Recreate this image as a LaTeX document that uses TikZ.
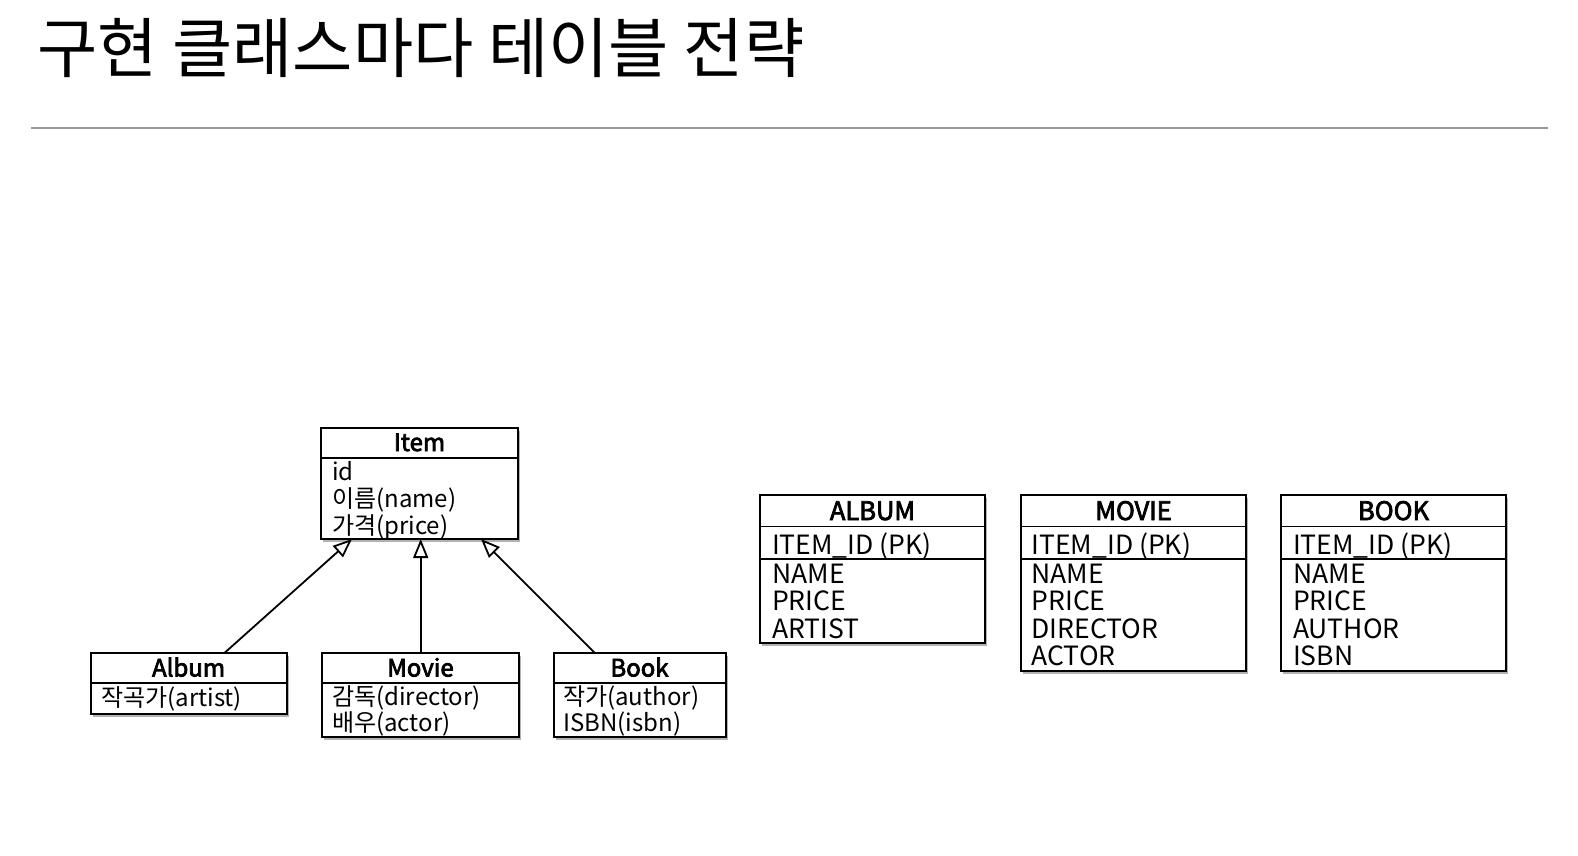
\documentclass[tikz,border=0pt]{standalone}
\usepackage{fontspec}
\setmainfont{Noto Sans CJK KR}
\newfontfamily\medfont{Noto Sans CJK KR}[FakeBold=3]
\usetikzlibrary{arrows.meta,shadows}
\tikzset{
  box/.style={draw, line width=2pt, fill=white, anchor=north west, inner sep=0pt, outer sep=0pt,
    drop shadow={shadow xshift=2pt, shadow yshift=-3pt, fill=black, opacity=0.3}},
  divider/.style={line width=1.7pt},
  umlhead/.style={anchor=base, inner sep=0pt, font=\fontsize{24pt}{27pt}\medfont},
  umlattr/.style={anchor=base west, inner sep=0pt, font=\fontsize{24pt}{27pt}\selectfont},
  tabhead/.style={anchor=base, inner sep=0pt, font=\fontsize{25.5pt}{28pt}\medfont},
  tabattr/.style={anchor=base west, inner sep=0pt, font=\fontsize{26.5pt}{30pt}\selectfont},
  inherit/.style={line width=1.8pt, -{Triangle[open, length=19pt, width=15pt, line width=1.8pt]}},
}
\begin{document}
\begin{tikzpicture}[x=1pt, y=-1pt]
\useasboundingbox (0,0) rectangle (1578,855);
\fill[white] (0,0) rectangle (1578,855);
% title
\node[anchor=base west, inner sep=0pt, font=\fontsize{65.5pt}{70pt}\selectfont] (title) at (37,72) {구현 클래스마다 테이블 전략};
\coordinate (ruleL) at (31,128);
\coordinate (ruleR) at (1548,128);
\draw[line width=1.6pt, black!40] (ruleL) -- (ruleR);

% UML classes
\node[box, minimum width=197pt, minimum height=111pt] (item) at (321,428) {};
\draw[divider] (item.west |- 0,458) -- (item.east |- 0,458);
\node[umlhead] (itemh) at (419.5,451) {Item};
\node[umlattr] (itema1) at (332,480) {id};
\node[umlattr] (itema2) at (332,507) {이름(name)};
\node[umlattr] (itema3) at (332,534) {가격(price)};

\node[box, minimum width=196pt, minimum height=61pt] (album) at (90.6,653) {};
\draw[divider] (album.west |- 0,683) -- (album.east |- 0,683);
\node[umlhead] (albumh) at (188.6,676.5) {Album};
\node[umlattr] (albuma1) at (101,706.5) {작곡가(artist)};

\node[box, minimum width=197pt, minimum height=84pt] (movie) at (322,653) {};
\draw[divider] (movie.west |- 0,683) -- (movie.east |- 0,683);
\node[umlhead] (movieh) at (420.5,676.5) {Movie};
\node[umlattr] (moviea1) at (332,705) {감독(director)};
\node[umlattr] (moviea2) at (332,731.5) {배우(actor)};

\node[box, minimum width=172pt, minimum height=84pt] (book) at (553.5,653) {};
\draw[divider] (book.west |- 0,683) -- (book.east |- 0,683);
\node[umlhead] (bookh) at (639.5,676.5) {Book};
\node[umlattr] (booka1) at (563,705) {작가(author)};
\node[umlattr] (booka2) at (563,731.5) {ISBN(isbn)};

\draw[inherit] ([xshift=133.8pt]album.north west) -- ([xshift=31pt]item.south west);
\draw[inherit] ([xshift=98.7pt]movie.north west) -- ([xshift=99.7pt]item.south west);
\draw[inherit] ([xshift=41.3pt]book.north west) -- ([xshift=160pt]item.south west);

% tables
\node[box, minimum width=225pt, minimum height=148pt] (talbum) at (760,495) {};
\draw[divider] (talbum.west |- 0,526.5) -- (talbum.east |- 0,526.5);
\draw[divider] (talbum.west |- 0,559) -- (talbum.east |- 0,559);
\node[tabhead] (talbumh) at (872.5,520) {ALBUM};
\node[tabattr] (talbum0) at (772,554) {ITEM\_ID (PK)};
\node[tabattr] (talbum1) at (772,583.3) {NAME};
\node[tabattr] (talbum2) at (772,610.7) {PRICE};
\node[tabattr] (talbum3) at (772,638.3) {ARTIST};

\node[box, minimum width=225pt, minimum height=176pt] (tmovie) at (1021,495) {};
\draw[divider] (tmovie.west |- 0,526.5) -- (tmovie.east |- 0,526.5);
\draw[divider] (tmovie.west |- 0,559) -- (tmovie.east |- 0,559);
\node[tabhead] (tmovieh) at (1133.5,520) {MOVIE};
\node[tabattr] (tmovie0) at (1031.5,554) {ITEM\_ID (PK)};
\node[tabattr] (tmovie1) at (1031.5,583.3) {NAME};
\node[tabattr] (tmovie2) at (1031.5,610.7) {PRICE};
\node[tabattr] (tmovie3) at (1031.5,638.3) {DIRECTOR};
\node[tabattr] (tmovie4) at (1031.5,665.5) {ACTOR};

\node[box, minimum width=225pt, minimum height=176pt] (tbook) at (1281,495) {};
\draw[divider] (tbook.west |- 0,526.5) -- (tbook.east |- 0,526.5);
\draw[divider] (tbook.west |- 0,559) -- (tbook.east |- 0,559);
\node[tabhead] (tbookh) at (1393.5,520) {BOOK};
\node[tabattr] (tbook0) at (1293,554) {ITEM\_ID (PK)};
\node[tabattr] (tbook1) at (1293,583.3) {NAME};
\node[tabattr] (tbook2) at (1293,610.7) {PRICE};
\node[tabattr] (tbook3) at (1293,638.3) {AUTHOR};
\node[tabattr] (tbook4) at (1293,665.5) {ISBN};
\end{tikzpicture}
\end{document}
